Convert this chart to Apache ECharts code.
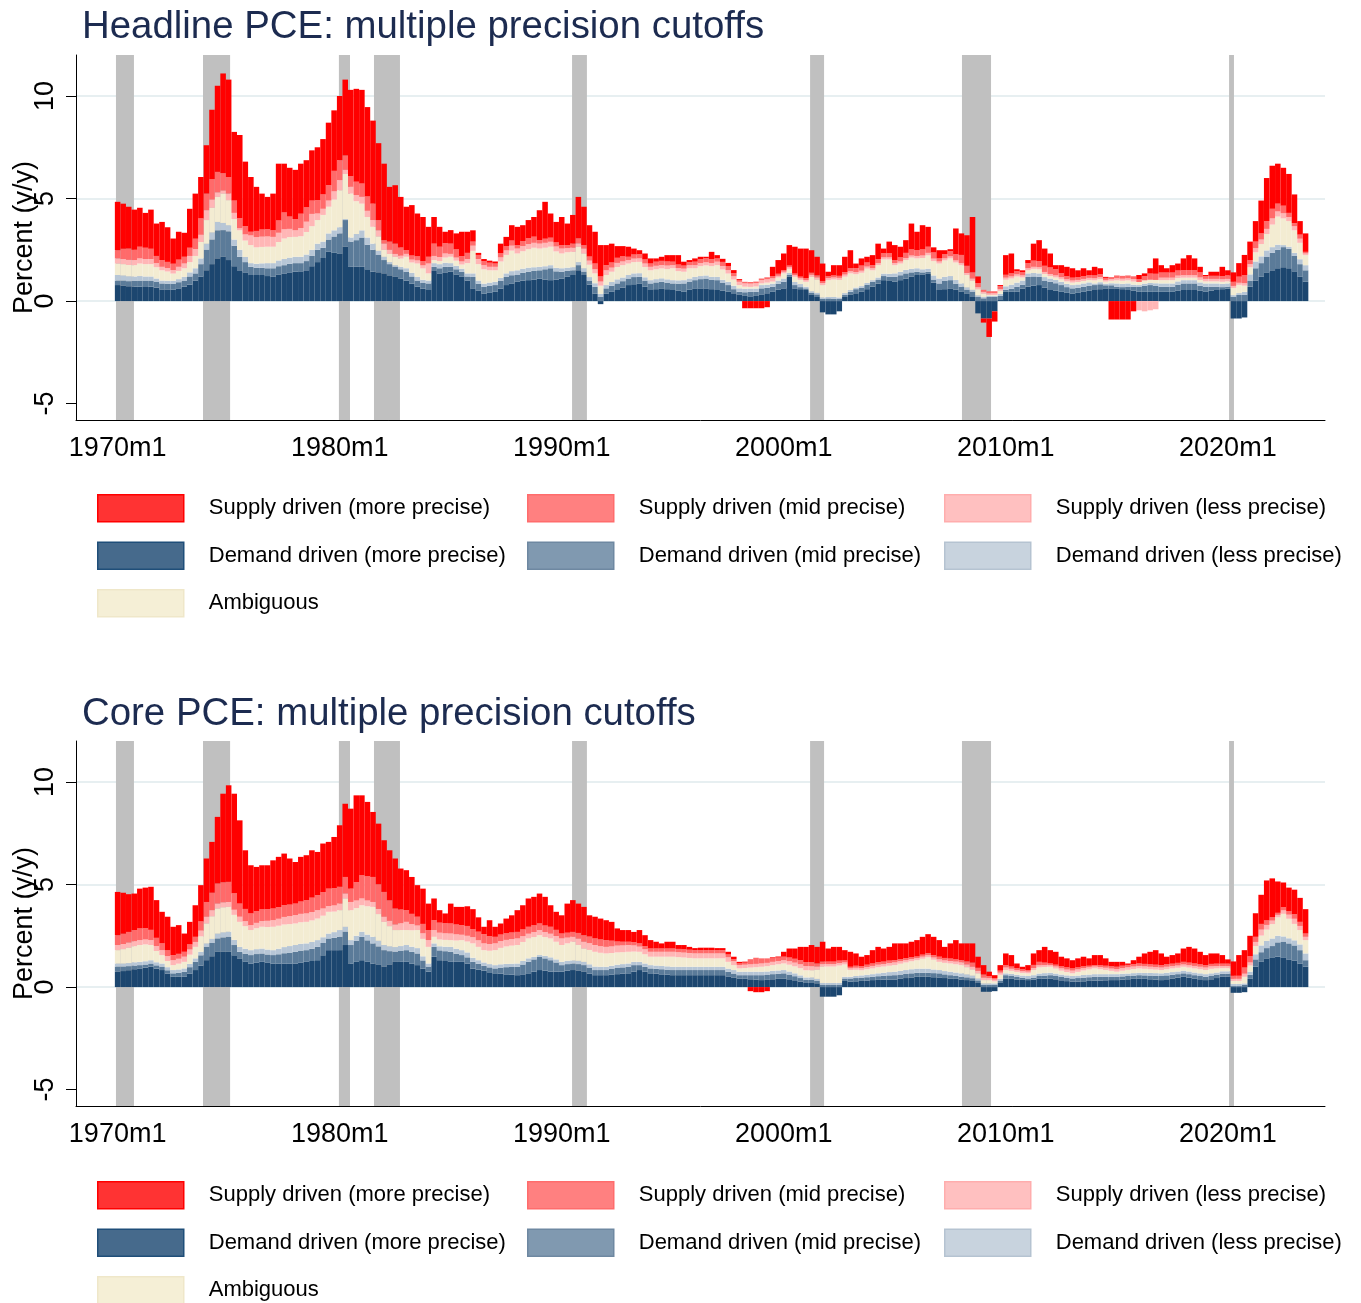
<!DOCTYPE html>
<html><head><meta charset="utf-8">
<script src="https://cdn.jsdelivr.net/npm/echarts@6/dist/echarts.min.js"></script>
<style>html,body{margin:0;padding:0;background:#fff}#c{width:1361px;height:1303px}</style>
</head><body><div id="c"></div>
<script>
// ---------------- DATA (quarterly, 1970Q1 .. 2023Q3) ----------------
const tickLabels = ['1970m1','1980m1','1990m1','2000m1','2010m1','2020m1'];
const yTicks = [-5, 0, 5, 10];
const gridLines = [0, 5, 10];
// NBER recession shading (decimal years)
const recStart = [1970.05, 1973.97, 1980.09, 1981.67, 1990.59, 2001.31, 2008.15, 2020.18];
const recEnd   = [1970.86, 1975.19, 1980.59, 1982.84, 1991.26, 2001.94, 2009.46, 2020.40];

// Headline PCE
const hDemandMore = [
.78,.75,.72,.7, .7,.72,.7,.65, .57,.57,.55,.62, .7,.8,1.0,1.2, 1.5,1.8,2.08,2.16,
2.0,1.7,1.5,1.4, 1.27,1.27,1.27,1.22, 1.18,1.3,1.35,1.4, 1.43,1.45,1.5,1.7, 1.9,2.1,2.4,2.35,
2.3,2.65,1.67,1.67, 1.67,1.55,1.43,1.4, 1.35,1.25,1.18,1.1, 1.0,.85,.7,.6, .54,1.5,1.35,1.4,
1.43,1.3,1.18,1.0, .62,.5,.37,.4, .45,.6,.78,.86, .94,1.0,1.02,1.05, 1.1,1.05,1.02,1.05,
1.1,1.2,1.27,1.5, 1.27,.8,.37,-.15, .37,.45,.54,.65, .78,.82,.86,.7, .54,.58,.62,.58,
.54,.5,.45,.55, .62,.62,.62,.58, .54,.5,.45,.38, .3,.25,.2,.25, .3,.38,.45,.55,
.62,1.18,.62,.58, .54,.3,.2,-.55, -.65,-.65,-.5,.2, .3,.38,.45,.58, .7,.85,1.02,.98,
.94,1.02,1.1,1.2, 1.27,1.3,1.35,.9, .54,.58,.62,.55, .45,.35,.2,-.6, -.85,-.85,-.5,.05,
.45,.45,.45,.6, .7,.75,.78,.65, .54,.5,.45,.4, .37,.4,.45,.5, .54,.58,.62,.62,
.62,.58,.54,.5, .45,.45,.45,.45, .45,.45,.45,.5, .54,.54,.54,.5, .45,.5,.54,.58,
.6,-.85,-.85,-.8, .7,1.0,1.2,1.4, 1.5,1.6,1.65,1.6, 1.45,1.2,.94];
const hDemandMid = [
.22,.25,.25,.28, .3,.28,.3,.3, .29,.28,.3,.3, .3,.4,.35,.6, 1.0,1.2,1.37,1.3,
1.4,1.0,.66,.5, .4,.35,.35,.38, .42,.4,.4,.42, .42,.4,.45,.5, .6,.5,.6,.8,
1.0,1.3,1.23,1.3, 1.43,1.2,1.07,.85, .65,.55,.49,.45, .43,.35,.3,.28, .32,.17,.25,.27,
.24,.25,.25,.2, .56,.35,.33,.35, .33,.38,.4,.4, .33,.38,.41,.42, .4,.5,.58,.4,
.33,.28,.23,.25, .16,.2,.33,.2, .25,.3,.32,.32, .32,.35,.32,.3, .32,.33,.32,.32,
.32,.35,.41,.4, .4,.45,.48,.45, .48,.38,.33,.2, .15,.18,.25,.2, .32,.27,.25,.3,
.32,.09,.16,.1, .08,.1,.12,.1, .13,.12,.1,.1, .15,.2,.2,.22, .24,.2,.2,.2,
.24,.24,.25,.2, .16,.1,.08,.15, .32,.4,.4,.3, .25,.2,.25,.2, .13,.2,.2,.2,
.1,.15,.25,.2, .48,.45,.4,.35, .4,.37,.33,.28, .25,.25,.25,.25, .24,.24,.15,.15,
.08,.1,.16,.2, .25,.3,.33,.3, .25,.25,.25,.3, .32,.32,.32,.25, .25,.2,.16,.1,
.1,.2,.3,.3, .3,.6,.65,.75, .85,.9,.98,.95, .75,.6,.56];
const hDemandLess = [
.27,.25,.24,.22, .22,.2,.2,.15, .14,.14,.14,.15, .18,.2,.25,.28, .3,.35,.41,.35,
.3,.3,.34,.25, .18,.2,.22,.25, .25,.28,.3,.3, .31,.31,.32,.3, .3,.3,.3,.3,
.3,.05,.2,.3, .35,.35,.3,.2, .16,.1,.08,.12, .17,.18,.18,.16, .14,.18,.2,.2,
.18,.17,.15,.15, .17,.15,.15,.15, .16,.15,.17,.2, .23,.2,.2,.18, .17,.15,.15,.17,
.17,.15,.15,.15, .17,.17,.17,.15, .16,.18,.2,.18, .17,.18,.18,.16, .16,.16,.17,.16,
.16,.16,.16,.15, .16,.15,.15,.15, .16,.16,.16,.17, .17,.17,.16,.16, .16,.15,.15,.15,
.16,.1,.15,.15, .08,.08,.08,.08, .07,.08,.08,.09, .09,.08,.08,.08, .08,.1,.12,.15,
.17,.17,.17,.17, .17,.15,.15,.2, .24,.2,.2,.18, .16,.12,.1,.08, .07,.05,.05,.1,
.17,.2,.2,.2, .17,.17,.17,.17, .16,.16,.16,.16, .16,.16,.16,.16, .08,.1,.08,.1,
.16,.16,.16,.1, .08,.1,.1,.12, .16,.16,.16,.16, .16,.16,.16,.16, .16,.16,.16,.16,
.16,.09,.09,.15, .3,.33,.33,.32, .28,.25,.1,.1, .15,.24,.25];
const hAmbiguous = [
.56,.55,.55,.55, .61,.6,.6,.55, .5,.45,.35,.4, .42,.5,.6,.8, 1.15,1.2,1.22,1.43,
1.22,1.0,.95,.8, .88,.8,.8,.8, .8,.9,1.0,1.0, .97,1.0,1.1,1.15, 1.15,1.3,1.3,1.5,
1.8,2.2,2.14,1.6, 1.3,1.0,.82,.7, .34,.4,.41,.4, .56,.5,.65,.55, .35,.15,.15,.25,
.31,.25,.2,.5, 1.1,.8,.7,.6, .56,.8,.9,1.0, .82,.85,.9,.95, .89,.9,.9,.8,
.72,.75,.75,.75, .72,.6,.48,.4, .49,.5,.6,.6, .56,.55,.55,.5, .48,.48,.48,.5,
.58,.45,.41,.5, .42,.48,.49,.52, .57,.5,.4,.3, .16,.1,.08,.1, .08,.1,.1,.15,
.25,.2,.25,.2, .24,.7,.65,.6, .82,.85,.85,.8, .81,.65,.65,.7, .48,.6,.69,.7,
.4,.4,.48,.55, .48,.55,.65,.7, .73,.8,.86,.85, .89,.6,.45,.3, .17,.05,.05,.15,
.32,.3,.3,.15, .15,.2,.2,.15, .12,.12,.12,.12, .12,.12,.12,.12, .15,.15,.1,.12,
.15,.15,.15,.15, .15,.16,.16,.16, .16,.16,.16,.16, .12,.12,.12,.12, .1,.1,.1,.1,
.1,.35,.4,.3, .35,.45,.6,.8, 1.1,1.37,1.3,1.25, 1.1,.8,.49];
const hSupplyLess = [
.25,.25,.25,.25, .25,.25,.25,.2, .17,.17,.17,.2, .23,.3,.34,.35, .48,.4,.22,.15,
.32,.3,.1,.3, .47,.5,.5,.5, .48,.45,.45,.4, .32,.4,.5,.6, .32,.3,.3,.4,
.5,.2,.33,.3, .33,.3,.33,.3, .3,.2,.14,.14, .14,.14,.15,.15, .48,.2,.2,.2,
.14,.15,.15,.2, .25,.25,.2,.17, .17,.2,.22,.24, .24,.25,.25,.24, .24,.24,.24,.24,
.24,.2,.2,.16, .24,.2,.2,.2, .23,.2,.2,.18, .17,.17,.17,.17, .17,.17,.17,.17,
.15,.15,.15,.15, .15,.15,.15,.15, .17,.17,.17,.16, .16,.16,.16,.16, .16,.16,.16,.08,
.08,.08,.08,.08, .08,.1,.1,.1, .1,.1,.1,.1, .1,.1,.1,.1, .1,.1,.1,.1,
.1,.1,.1,.1, .12,.12,.12,.12, .1,.1,.1,.1, .1,.1,.1,.1, .08,.08,.08,.08,
.1,.1,.1,.1, .1,.1,.1,.1, .1,.1,.1,.1, .1,.1,.1,.1, .1,.1,.08,.08,
.1,.1,.1,.12, -.45,-.5,-.45,-.4, .12,.12,.12,.12, .12,.12,.12,.12, .12,.12,.12,.12,
.12,.1,.1,.12, .15,.2,.22,.25, .3,.25,.25,.2, .2,.2,.08];
const hSupplyMid = [
.4,.5,.55,.5, .57,.55,.5,.35, .33,.3,.31,.35, .33,.4,.5,.8, .81,1.0,1.0,.85,
.81,.6,.5,.4, .18,.3,.35,.35, .32,.6,.82,.6, .55,.7,.7,.65, .65,.7,.75,1.0,
.97,.7,.53,.65, .65,.7,.8,.5, .17,.4,.5,.4, .18,.2,.2,.2, .33,.6,.5,.5,
.5,.4,.26,.3, .2,.2,.2,.2, .16,.2,.2,.25, .17,.25,.28,.3, .17,.2,.2,.2,
.17,.15,.2,.25, .17,.2,.28,.25, .25,.25,.25,.25, .16,.2,.2,.2, .16,.2,.2,.2,
.17,.17,.15,.15, .17,.2,.2,.2, .16,.2,.2,.15, .08,.08,.08,.08, .08,.1,.1,.1,
.07,.08,.08,.08, .1,.1,.1,.1, .1,.1,.1,.12, .15,.2,.25,.2, .15,.2,.2,.2,
.15,.2,.25,.3, .28,.3,.3,.3, .15,.2,.25,.3, .4,.35,.3,.2, .1,.1,.1,.15,
.14,.15,.15,.15, .25,.3,.3,.3, .32,.3,.2,.15, .14,.14,.14,.14, .14,.14,.1,.1,
.14,.14,.14,.14, .14,.2,.3,.3, .25,.25,.25,.25, .25,.25,.25,.25, .14,.15,.15,.15,
.17,.2,.3,.4, .2,.32,.3,.38, .47,.38,.37,.2, .15,.2,.08];
const hSupplyMore = [
2.36,2.2,2.04,1.96, 1.9,1.7,1.91,1.58, 1.86,1.69,1.23,1.36, 1.17,1.9,2.2,2.02, 2.36,3.38,4.2,4.86,
4.75,3.35,4.05,3.15, 2.67,2.15,1.75,1.58, 1.79,2.77,2.38,2.38, 2.4,2.44,2.3,2.45, 2.58,2.7,3.05,2.95,
3.13,3.7,4.2,4.53, 4.57,4.36,4.05,3.75, 3.73,2.67,2.85,2.47, 2.12,2.46,2.09,2.16, 1.46,1.3,.97,.56,
.66,.78,1.19,1.03, .55,.1,.1,.1, .1,.47,.46,.75, .89,.77,.89,.96, 1.46,1.8,1.18,1.0,
1.37,1.05,1.4,2.02, 1.87,1.53,1.55,1.53, .98,.92,.57,.5, .49,.29,.2,.29, .25,.16,.2,.31,
.32,.46,.19,.1, .16,.11,.07,.35, .16,.15,.15,.15, .05,-.35,-.35,-.35, -.35,-.3,.46,.67,
.82,1.0,1.31,1.37, 1.44,1.1,.91,.85, .21,.5,.52,.75, .88,.22,.35,.28, .49,.75,.23,.57,
.73,.52,.62,1.26, .9,1.18,.97,.25, .4,.2,.1,1.26, 1.05,1.49,2.7,.32, -.2,-.9,-.5,.05,
.96,.97,.1,.1, .15,.83,1.02,.84, .68,.2,.39,.46, .46,.33,.38,.23, .42,.29,.05,-.9,
-.9,-.9,-.9,-.5, .2,.14,.26,.75, .36,.21,.36,.34, .57,.73,.57,.27, .05,.2,.2,.46,
.25,.46,.66,.98, .9,1.0,1.6,2.1, 2.1,1.95,1.85,1.9, 1.4,.66,.9];

// Core PCE
const cDemandMore = [
.75,.78,.82,.87, .91,.95,1.0,.9, .83,.65,.5,.5, .5,.65,.83,1.05, 1.31,1.5,1.72,1.72,
1.72,1.55,1.4,1.25, 1.15,1.2,1.23,1.18, 1.15,1.15,1.15,1.15, 1.15,1.2,1.23,1.27, 1.31,1.55,1.8,1.8,
1.8,2.05,1.15,1.25, 1.31,1.23,1.15,1.08, 1.0,1.1,1.23,1.23, 1.23,1.15,1.07,.9, .75,1.48,1.31,1.27,
1.23,1.23,1.23,1.15, .9,.85,.8,.72, .67,.65,.62,.6, .58,.62,.67,.75, .83,.8,.75,.75,
.75,.8,.83,.8, .75,.65,.58,.58, .58,.6,.63,.65, .67,.75,.83,.75, .67,.65,.62,.6,
.58,.58,.58,.58, .58,.58,.58,.58, .58,.58,.52,.47, .42,.4,.38,.36, .34,.35,.38,.4,
.42,.38,.33,.27, .2,.2,.18,-.47, -.47,-.47,-.4,.3, .26,.28,.3,.32, .34,.35,.36,.37,
.37,.4,.44,.47, .5,.5,.5,.48, .47,.44,.42,.4, .37,.34,.3,.2, -.23,-.23,-.2,.2,
.42,.4,.37,.35, .34,.36,.4,.41, .42,.38,.33,.29, .26,.27,.28,.3, .31,.32,.33,.34,
.34,.36,.38,.4, .42,.4,.38,.36, .34,.38,.42,.46, .5,.46,.42,.38, .34,.38,.44,.5,
.5,-.28,-.28,-.25, .4,1.0,1.25,1.4, 1.45,1.48,1.42,1.35, 1.28,1.15,.99];
const cDemandMid = [
.25,.22,.2,.18, .16,.15,.15,.16, .17,.17,.17,.2, .25,.32,.4,.5, .65,.65,.65,.7,
.73,.5,.32,.38, .41,.41,.41,.41, .41,.45,.5,.53, .57,.58,.57,.6, .65,.6,.57,.6,
.65,.65,.9,1.0, 1.14,1.05,.98,.9, .8,.65,.49,.53, .57,.57,.57,.4, .25,.48,.48,.48,
.49,.4,.33,.3, .33,.28,.24,.24, .24,.3,.35,.38, .41,.48,.56,.6, .65,.6,.56,.45,
.32,.32,.32,.32, .32,.3,.25,.25, .25,.28,.3,.31, .32,.32,.24,.24, .24,.24,.25,.25,
.25,.25,.25,.25, .25,.25,.25,.25, .25,.25,.22,.19, .16,.18,.2,.22, .24,.24,.25,.25,
.25,.23,.2,.17, .15,.15,.12,.1, .1,.1,.1,.12, .16,.16,.16,.16, .16,.18,.19,.2,
.21,.21,.2,.2, .2,.2,.2,.2, .2,.18,.16,.14, .13,.13,.13,.12, .1,.1,.1,.12,
.16,.14,.12,.1, .08,.1,.14,.15, .16,.16,.16,.16, .16,.17,.18,.18, .19,.18,.17,.16,
.16,.16,.16,.16, .16,.17,.18,.19, .2,.19,.18,.17, .17,.17,.16,.16, .16,.16,.15,.15,
.15,.05,.05,.1, .2,.35,.45,.5, .55,.7,.8,.78, .75,.65,.32];
const cDemandLess = [
.15,.15,.15,.16, .16,.16,.16,.15, .15,.15,.16,.16, .16,.16,.17,.17, .17,.2,.24,.25,
.25,.25,.24,.24, .24,.24,.24,.24, .24,.27,.3,.32, .33,.33,.33,.33, .33,.28,.24,.28,
.33,.24,.24,.25, .25,.28,.32,.28, .25,.24,.23,.24, .25,.25,.26,.2, .15,.17,.2,.22,
.24,.24,.24,.24, .2,.18,.16,.16, .16,.16,.16,.16, .16,.17,.17,.12, .08,.12,.14,.15,
.16,.16,.15,.16, .16,.16,.17,.16, .16,.16,.16,.16, .16,.16,.16,.16, .16,.16,.16,.16,
.16,.16,.16,.16, .16,.16,.16,.16, .16,.16,.16,.17, .17,.17,.17,.17, .17,.17,.16,.16,
.16,.15,.14,.13, .12,.12,.1,.1, .1,.1,.1,.08, .08,.1,.11,.12, .13,.14,.15,.16,
.17,.18,.19,.2, .2,.2,.2,.18, .16,.16,.17,.17, .17,.15,.13,.1, .08,.08,.08,.08,
.09,.1,.11,.11, .12,.12,.12,.12, .12,.12,.12,.12, .12,.12,.13,.13, .13,.13,.13,.13,
.13,.13,.12,.12, .12,.12,.13,.13, .13,.13,.13,.13, .13,.13,.13,.13, .13,.13,.12,.12,
.12,.1,.1,.08, .15,.25,.33,.35, .37,.32,.25,.25, .25,.28,.33];
const cAmbiguous = [
.65,.7,.75,.78, .82,.82,.74,.55, .41,.3,.24,.28, .32,.45,.56,.75, .97,1.1,1.22,1.22,
1.21,1.22,1.22,1.1, .98,1.02,1.06,1.1, 1.14,1.12,1.1,1.07, 1.05,1.05,1.05,1.05, 1.05,1.05,1.06,1.0,
.97,1.38,1.46,1.35, 1.29,1.38,1.46,1.3, 1.13,.98,.83,.78, .73,.8,.88,.85, .81,.32,.33,.33,
.33,.4,.49,.53, .7,.65,.6,.65, .73,.8,.85,.88, .9,.93,.97,.97, .97,.92,.92,.86,
.82,.85,.91,.78, .65,.7,.72,.68, .65,.62,.6,.58, .57,.5,.49,.45, .41,.43,.45,.47,
.49,.47,.45,.43, .41,.41,.41,.41, .41,.41,.33,.24, .16,.18,.2,.22, .24,.26,.28,.3,
.32,.33,.34,.35, .35,.35,.45,.8, .8,.8,.85,.6, .33,.3,.25,.27, .28,.3,.3,.31,
.32,.35,.37,.39, .41,.48,.55,.47, .4,.4,.4,.4, .4,.35,.3,.25, .16,.16,.1,.2,
.16,.15,.14,.13, .13,.25,.3,.3, .29,.24,.19,.16, .13,.18,.22,.25, .28,.24,.2,.16,
.12,.15,.18,.2, .21,.2,.18,.17, .16,.17,.18,.18, .19,.19,.2,.2, .2,.22,.2,.15,
.15,.15,.15,.32, .3,.4,.48,.55, .7,.9,1.1,.95, .8,.7,.65];
const cSupplyLess = [
.25,.25,.25,.24, .24,.24,.24,.24, .24,.24,.24,.24, .25,.25,.24,.28, .33,.3,.24,.24,
.24,.25,.25,.24, .24,.26,.28,.3, .32,.34,.37,.39, .41,.41,.41,.41, .41,.35,.28,.3,
.32,.24,.4,.37, .33,.28,.24,.25, .25,.26,.27,.33, .4,.3,.22,.27, .33,.33,.33,.32,
.32,.3,.26,.28, .3,.32,.33,.33, .33,.33,.32,.32, .32,.28,.23,.24, .25,.24,.23,.28,
.32,.28,.24,.3, .33,.33,.33,.32, .32,.32,.33,.33, .33,.3,.25,.24, .24,.24,.24,.24,
.24,.24,.24,.24, .24,.24,.24,.24, .24,.24,.22,.19, .16,.16,.16,.16, .16,.16,.16,.16,
.16,.17,.18,.19, .2,.2,.15,.12, .12,.12,.12,.1, .08,.1,.1,.11, .12,.12,.12,.13,
.13,.12,.11,.1, .1,.1,.1,.11, .12,.12,.12,.13, .13,.13,.13,.12, .12,.1,.08,.1,
.12,.1,.09,.08, .08,.1,.1,.09, .08,.1,.11,.12, .13,.12,.11,.1, .09,.1,.11,.11,
.12,.12,.12,.12, .12,.12,.12,.12, .12,.12,.11,.11, .11,.11,.12,.12, .12,.12,.11,.1,
.1,.1,.1,.15, .15,.2,.29,.23, .17,.12,.17,.2, .25,.2,.16];
const cSupplyMid = [
.48,.5,.52,.55, .57,.55,.5,.4, .33,.28,.25,.24, .24,.25,.25,.45, .72,.85,.98,.98,
.98,.8,.64,.6, .57,.57,.57,.57, .57,.57,.57,.56, .56,.6,.65,.7, .73,.8,.85,.84,
.82,.81,.65,.9, 1.13,1.18,1.22,1.2, 1.21,1.0,.78,.67, .57,.5,.43,.46, .49,.48,.49,.49,
.49,.48,.47,.48, .4,.42,.45,.38, .32,.32,.32,.32, .32,.33,.34,.33, .32,.32,.34,.3,
.24,.24,.24,.28, .32,.32,.32,.33, .33,.28,.2,.18, .16,.16,.16,.16, .16,.16,.16,.16,
.16,.16,.16,.16, .16,.16,.16,.16, .16,.16,.14,.11, .08,.1,.25,.3, .25,.22,.17,.17,
.17,.18,.19,.2, .2,.2,.15,.12, .12,.12,.12,.1, .08,.1,.1,.11, .12,.12,.12,.12,
.11,.1,.1,.09, .08,.1,.1,.12, .13,.12,.12,.11, .11,.15,.2,.15, .15,.1,.08,.1,
.12,.11,.1,.09, .08,.15,.17,.12, .08,.09,.1,.11, .11,.1,.09,.08, .07,.09,.1,.11,
.12,.12,.12,.12, .12,.12,.12,.12, .12,.12,.12,.13, .13,.13,.12,.12, .12,.12,.12,.12,
.12,.15,.15,.3, .3,.25,.28,.22, .16,.1,.15,.18, .22,.2,.16];
const cSupplyMore = [
2.11,2.0,1.84,1.78, 1.94,1.98,2.1,1.84, 1.54,1.64,1.38,1.4, .89,1.1,1.54,1.77, 2.12,2.48,3.25,4.32,
4.71,4.86,4.06,2.86, 2.35,2.16,2.15,2.14, 2.35,2.45,2.52,2.25, 2.03,2.18,2.19,2.31, 2.11,2.37,2.28,2.5,
3.0,3.57,3.9,4.23, 3.9,3.63,3.17,2.96, 2.52,2.44,2.44,2.0, 1.95,1.8,1.54,1.72, 1.29,1.06,.61,.48,
.97,.86,.89,.96, .97,.7,.36,.78, .49,.54,.72,.84, 1.06,1.18,1.38,1.39, 1.46,1.4,1.05,.88,
.89,1.42,1.55,1.43, 1.38,1.04,1.06,1.02, .97,.92,.64,.57, .57,.5,.65,.53, .41,.33,.25,.33,
.33,.19,.21,.14, .1,.12,.12,.12, .1,.1,.13,.11, .08,.05,-.2,-.25, -.25,-.2,.05,.05,
.24,.44,.5,.65, .74,.83,.81,.97, .64,.72,.67,.5, .73,.6,.46,.47, .65,.75,.64,.67,
.82,.77,.72,.76, .8,.87,.93,.89, .81,.54,.74,.94, .82,.88,.94,.54, .46,.21,.14,.27,
.57,.56,.22,.13, .24,.56,.57,.77, .65,.63,.47,.44, .4,.44,.47,.36, .49,.5,.36,.22,
.24,.19,.07,.19, .33,.51,.61,.71, .57,.37,.42,.46, .65,.77,.73,.61, .49,.51,.5,.42,
.21,.7,1.01,.85, 1.0,1.15,1.42,1.95, 1.9,1.53,1.21,1.14, 1.2,1.17,1.19];

// ---------------- CHART ----------------
const FONT = "'Liberation Sans', Arial, Helvetica, sans-serif";
const categories = [];
for (let y = 1968; y <= 2024; y++) for (const m of [1, 4, 7, 10]) {
  const v = y + (m - 1) / 12;
  if (v > 1968.2 && v < 2024.3) categories.push(y + 'm' + m);
}
const startIdx = categories.indexOf('1970m1');
const pad = arr => new Array(startIdx).fill(null).concat(arr);

const defs = [
  {key:'dMore', name:'Demand driven (more precise)', color:'#1c466f', lc:'#466a8c', lb:'#1f4e79'},
  {key:'dMid',  name:'Demand driven (mid precise)',  color:'#5b7b99', lc:'#8099b0', lb:'#6e88a1'},
  {key:'dLess', name:'Demand driven (less precise)', color:'#b7c6d6', lc:'#c8d3de', lb:'#b5c3d1'},
  {key:'amb',   name:'Ambiguous',                    color:'#f3ecd2', lc:'#f5efd6', lb:'#efe7c9'},
  {key:'sLess', name:'Supply driven (less precise)', color:'#ffb6b6', lc:'#ffc0c0', lb:'#ffadad'},
  {key:'sMid',  name:'Supply driven (mid precise)',  color:'#ff6a6a', lc:'#ff8080', lb:'#ff6c6c'},
  {key:'sMore', name:'Supply driven (more precise)', color:'#ff0000', lc:'#ff3333', lb:'#ff0000'}
];
const byKey = {}; defs.forEach(d => byKey[d.key] = d);

const charts = [
  {title:'Headline PCE: multiple precision cutoffs', titleTop:3, gridTop:55, legendTop:494,
   data:{dMore:hDemandMore, dMid:hDemandMid, dLess:hDemandLess, amb:hAmbiguous, sLess:hSupplyLess, sMid:hSupplyMid, sMore:hSupplyMore}},
  {title:'Core PCE: multiple precision cutoffs', titleTop:690, gridTop:741, legendTop:1181,
   data:{dMore:cDemandMore, dMid:cDemandMid, dLess:cDemandLess, amb:cAmbiguous, sLess:cSupplyLess, sMid:cSupplyMid, sMore:cSupplyMore}}
];
charts.forEach(c => Object.keys(c.data).forEach(k => {
  if (c.data[k].length !== 215) throw new Error(c.title + ' ' + k + ' length ' + c.data[k].length);
}));

const showTick = (i, v) => tickLabels.indexOf(v) >= 0;
const option = {animation:false, backgroundColor:'#fff', title:[], grid:[], xAxis:[], yAxis:[], legend:[], series:[]};

// legend layout: [key, column x, row]
const legendLayout = [['sMore',97,0],['sMid',527,0],['sLess',944,0],['dMore',97,1],['dMid',527,1],['dLess',944,1],['amb',97,2]];
function legendItem(key, left, top) {
  const d = byKey[key];
  return {left, top, orient:'vertical', padding:0, itemWidth:86, itemHeight:27,
    icon:'rect', selectedMode:false,
    textStyle:{fontSize:22, color:'#000', fontFamily:FONT, padding:[0,0,0,20]},
    data:[{name:d.name, itemStyle:{color:d.lc, borderColor:d.lb, borderWidth:1.5}}]};
}

charts.forEach((c, g) => {
  option.title.push({text:c.title, left:77, top:c.titleTop, padding:5,
    textStyle:{fontSize:38.4, fontWeight:'normal', color:'#1c2b50', fontFamily:FONT}});
  option.grid.push({left:76, right:36, top:c.gridTop, height:365, outerBoundsMode:'none', containLabel:false});
  option.xAxis.push({type:'category', gridIndex:g, data:categories, boundaryGap:true,
    axisLine:{onZero:false, lineStyle:{color:'#000', width:1}},
    axisTick:{interval:showTick, alignWithLabel:true, length:9, lineStyle:{color:'#000'}},
    axisLabel:{interval:showTick, fontSize:27, color:'#000', margin:15, fontFamily:FONT},
    splitLine:{show:false}});
  option.xAxis.push({type:'value', gridIndex:g, min:1968.25, max:2024.5, show:false});
  option.yAxis.push({type:'value', gridIndex:g, min:-5.8, max:12,
    axisLine:{show:true, onZero:false, lineStyle:{color:'#000', width:1}},
    axisTick:{show:true, length:10, customValues:yTicks, lineStyle:{color:'#000'}},
    axisLabel:{customValues:yTicks, rotate:90, fontSize:27, color:'#000', margin:17, fontFamily:FONT},
    splitLine:{show:false},
    name:'Percent (y/y)', nameLocation:'middle', nameGap:38, nameMoveOverlap:false,
    nameTextStyle:{fontSize:27, color:'#000', fontFamily:FONT}});
  legendLayout.forEach(([k, x, r]) => option.legend.push(legendItem(k, x, c.legendTop + r * 47.5)));
  option.series.push({type:'line', name:'grid'+g, xAxisIndex:2*g+1, yAxisIndex:g, data:[], z:0, silent:true,
    markLine:{silent:true, z:0, symbol:['none','none'], label:{show:false}, animation:false,
      lineStyle:{color:'#e7eff1', width:2, type:'solid'}, data: gridLines.map(v => ({yAxis:v}))}});
  option.series.push({type:'line', name:'rec'+g, xAxisIndex:2*g+1, yAxisIndex:g, data:[], z:1, silent:true,
    markArea:{silent:true, z:1, itemStyle:{color:'#c0c0c0'}, animation:false,
      data: recStart.map((s, i) => [{xAxis:s}, {xAxis:recEnd[i]}])}});
  defs.forEach(d => {
    option.series.push({type:'bar', name:d.name, xAxisIndex:2*g, yAxisIndex:g, stack:'st'+g,
      data:pad(c.data[d.key]), itemStyle:{color:d.color}, barCategoryGap:'0%', barWidth:'100%',
      z:2, emphasis:{disabled:true}, silent:true});
  });
});

const chart = echarts.init(document.getElementById('c'), null, {renderer:'canvas'});
chart.setOption(option);
</script></body></html>
